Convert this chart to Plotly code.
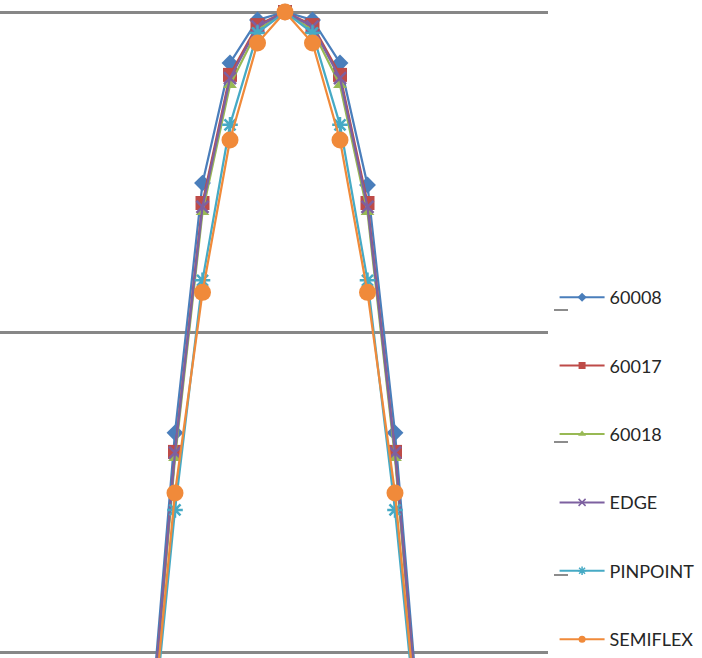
import plotly.graph_objects as go

positions = [-5, -4, -3, -2, -1, 0, 1, 2, 3, 4, 5]
s60008 = [0.45, 4.84, 29.2, 69.3, 94.4, 100, 94.4, 69.3, 28.8, 4.84, 0.45]
s60017 = [0.42, 4.22, 25.3, 63.6, 91.0, 100, 91.0, 63.6, 25.3, 4.22, 0.42]
s60018 = [0.41, 4.04, 23.7, 59.1, 87.9, 100, 87.9, 59.1, 23.7, 4.04, 0.41]
edge = [0.42, 4.2, 24.6, 62.1, 90.0, 100, 90.0, 62.1, 24.6, 4.2, 0.42]
pinpoint = [0.38, 2.78, 14.5, 44.4, 86.0, 100, 86.0, 44.4, 14.5, 2.78, 0.38]
semiflex = [0.40, 3.14, 13.3, 39.8, 80.0, 100, 80.0, 39.8, 13.3, 3.14, 0.40]

series = [
    ("60008", s60008, "#4A7EBB", "diamond", 13, None),
    ("60017", s60017, "#BE4B48", "square", 14, None),
    ("60018", s60018, "#98B954", "triangle-up", 12, None),
    ("EDGE", edge, "#7D60A0", "x-thin", 12, 2.5),
    ("PINPOINT", pinpoint, "#46AAC5", "asterisk", 13, 2.5),
    ("SEMIFLEX", semiflex, "#F08A3A", "circle", 17, None),
]

fig = go.Figure()
for i, (name, vals, color, sym, size, lw) in enumerate(series):
    marker = dict(symbol=sym, size=size, color=color)
    if lw:
        marker["line"] = dict(color=color, width=lw)
    fig.add_trace(go.Scatter(
        x=positions, y=vals, name=name, mode="lines+markers",
        line=dict(color=color, width=2.25), marker=marker,
        legendgroup=f"g{i}", showlegend=False,
    ))

# legend-only entries with small markers, like the Excel legend
for i, (name, vals, color, sym, size, lw) in enumerate(series):
    marker = dict(symbol=sym, size=7, color=color)
    if lw:
        marker["line"] = dict(color=color, width=1.5)
    fig.add_trace(go.Scatter(
        x=[None], y=[None], name=name, mode="lines+markers",
        line=dict(color=color, width=2), marker=marker,
        legendgroup=f"g{i}", showlegend=True,
    ))

H = 658.0
W = 548.0
shapes = []
for yy in [310, 442, 575]:
    shapes.append(dict(type="line", xref="paper", yref="paper",
                       x0=554 / W, x1=568 / W, y0=1 - yy / H, y1=1 - yy / H,
                       line=dict(color="#8C8C8C", width=2)))

fig.update_layout(
    width=702, height=658,
    margin=dict(l=0, r=154, t=0, b=0, autoexpand=False),
    paper_bgcolor="white", plot_bgcolor="white",
    showlegend=True,
    legend=dict(
        x=1.012, y=1 - 279 / H, xanchor="left", yanchor="top",
        font=dict(family="Lato", size=18, color="#262626"),
        tracegroupgap=42, itemsizing="trace", itemwidth=45,
        bgcolor="rgba(0,0,0,0)",
    ),
    xaxis=dict(range=[-285 / 27.5, (W - 285) / 27.5], showgrid=False,
               zeroline=False, showticklabels=False, showline=False, ticks=""),
    yaxis=dict(type="log", range=[-6 / 320, 2 + 12 / 320], dtick=1,
               showgrid=True, gridcolor="#878787", gridwidth=3,
               zeroline=False, showticklabels=False, showline=False, ticks=""),
    shapes=shapes,
)

fig.write_html("out.html")
